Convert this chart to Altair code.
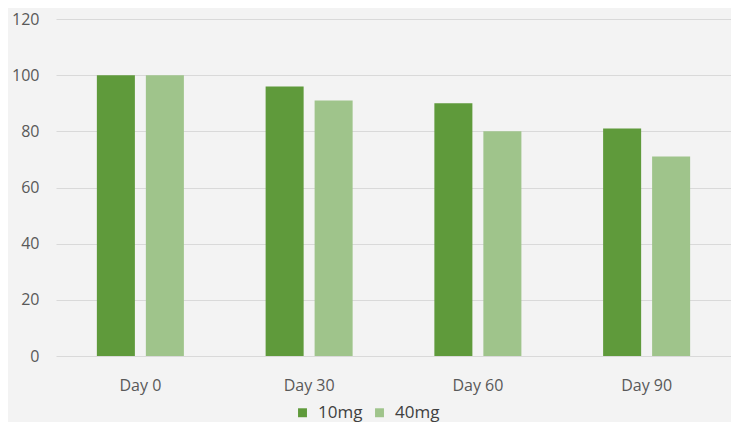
import altair as alt
import pandas as pd

days = ["Day 0", "Day 30", "Day 60", "Day 90"]
series = ["10mg", "40mg"]
vals_10mg = [100, 96, 90, 81]
vals_40mg = [100, 91, 80, 71]
colors = ["#5f9a3b", "#9fc48b"]
y_ticks = [0, 20, 40, 60, 80, 100, 120]

rows = []
for d, a, b in zip(days, vals_10mg, vals_40mg):
    rows.append({"day": d, "dose": series[0], "value": a})
    rows.append({"day": d, "dose": series[1], "value": b})
df = pd.DataFrame(rows)

FONT = "Open Sans"

chart = (
    alt.Chart(df)
    .mark_bar()
    .encode(
        x=alt.X(
            "day:N",
            sort=days,
            title=None,
            scale=alt.Scale(paddingInner=0, paddingOuter=0),
            axis=alt.Axis(
                labelAngle=0,
                domain=False,
                ticks=False,
                tickSize=0,
                labelPadding=21,
                labelFontSize=16,
                labelColor="#595959",
                labelFont=FONT,
                grid=False,
            ),
        ),
        xOffset=alt.XOffset(
            "dose:N",
            sort=series,
            scale=alt.Scale(paddingInner=0.224, paddingOuter=0.834),
        ),
        y=alt.Y(
            "value:Q",
            title=None,
            scale=alt.Scale(domain=[0, 120], nice=False),
            axis=alt.Axis(
                values=y_ticks,
                domain=False,
                ticks=False,
                tickSize=0,
                labelPadding=17,
                labelFontSize=16,
                labelColor="#595959",
                labelFont=FONT,
                gridColor="#d9d9d9",
                gridWidth=1,
            ),
        ),
        color=alt.Color(
            "dose:N",
            sort=series,
            scale=alt.Scale(domain=series, range=colors),
            legend=alt.Legend(
                title=None,
                orient="none",
                direction="horizontal",
                legendX=238,
                legendY=385,
                symbolType="square",
                symbolSize=80,
                symbolStrokeWidth=0,
                labelFontSize=17,
                labelColor="#404040",
                labelFont=FONT,
                columnPadding=8,
                labelOffset=7,
            ),
        ),
    )
    .properties(
        width=675,
        height=337,
        background="#f3f3f3",
        padding={"left": 48, "top": 11, "right": 0, "bottom": 66},
        autosize=alt.AutoSizeParams(type="none"),
    )
    .configure_view(stroke=None)
)

chart.save("out.html", embed_options={"renderer": "svg", "actions": False})
